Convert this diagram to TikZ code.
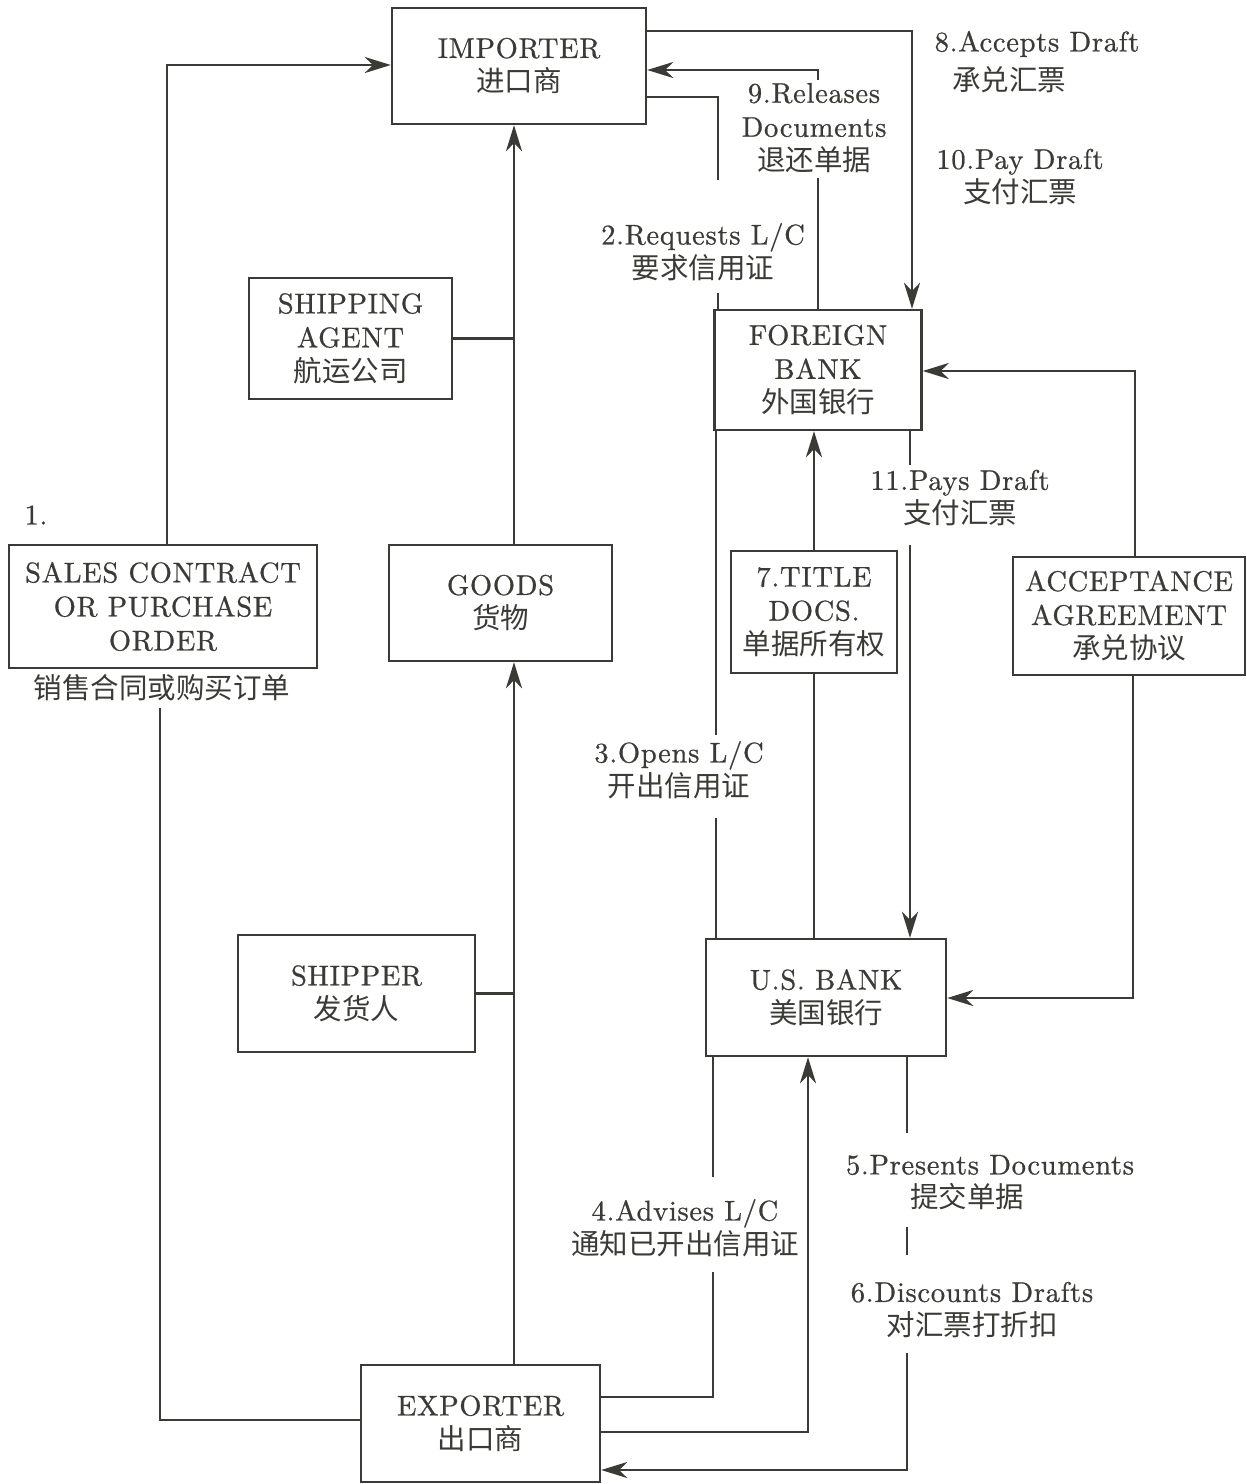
\documentclass[tikz,border=0pt]{standalone}
\usepackage{fontspec}
\setmainfont{lmroman10-regular.otf}[FakeBold=0.7,LetterSpace=2.5]
\newfontfamily\cjk{Noto Sans CJK SC}
\usetikzlibrary{arrows.meta}
\definecolor{ink}{RGB}{58,58,54}
\newcommand{\zh}[1]{{\cjk #1}}
\begin{document}
\begin{tikzpicture}[x=1pt,y=-1pt,
  font=\fontsize{28.5}{34}\selectfont,
  box/.style={draw=ink, line width=2.4pt, inner sep=0pt, align=center, text=ink},
  lab/.style={text=ink, align=center, inner sep=0pt},
  conn/.style={draw=ink, line width=2.4pt},
  arr/.style={conn, -{Stealth[length=26pt,width=16pt,inset=8pt]}}]
\fill[white] (0,0) rectangle (1247,1484);
\useasboundingbox (0,0) rectangle (1247,1484);

% boxes
\node[box, minimum width=254pt, minimum height=116pt] (imp) at (519,66) {IMPORTER\\\zh{进口商}};
\node[box, minimum width=207pt, minimum height=120pt] (fb) at (818,370) {FOREIGN\\BANK\\\zh{外国银行}};
\node[box, minimum width=203pt, minimum height=121pt] (sa) at (350.5,338.5) {SHIPPING\\AGENT\\\zh{航运公司}};
\node[box, minimum width=308pt, minimum height=123pt] (sc) at (163,606.5) {SALES CONTRACT\\OR PURCHASE\\ORDER};
\node[box, minimum width=223pt, minimum height=116pt] (goods) at (500.5,603) {GOODS\\\zh{货物}};
\node[box, minimum width=166pt, minimum height=122pt] (td) at (814,612) {7.TITLE\\DOCS.\\\zh{单据所有权}};
\node[box, minimum width=232pt, minimum height=118pt] (acc) at (1129,616) {ACCEPTANCE\\AGREEMENT\\\zh{承兑协议}};
\node[box, minimum width=237pt, minimum height=117pt] (shipper) at (356.5,993.5) {SHIPPER\\\zh{发货人}};
\node[box, minimum width=240pt, minimum height=117pt] (usb) at (826,997.5) {U.S. BANK\\\zh{美国银行}};
\node[box, minimum width=239pt, minimum height=117pt] (exp) at (480.5,1423.5) {EXPORTER\\\zh{出口商}};

% labels
\node[lab] (l1) at (36,515) {1.};
\node[lab] (sczh) at (162,688) {\zh{销售合同或购买订单}};
\node[lab] (l8a) at (1037,44) {8.Accepts Draft};
\node[lab] (l8b) at (1009,80) {\zh{承兑汇票}};
\node[lab] (l9) at (814,128) {9.Releases\\Documents\\\zh{退还单据}};
\node[lab] (l10) at (1020,177) {10.Pay Draft\\\zh{支付汇票}};
\node[lab] (l2) at (703,252) {2.Requests L/C\\\zh{要求信用证}};
\node[lab] (l11) at (960,498) {11.Pays Draft\\\zh{支付汇票}};
\node[lab] (l3) at (679,770) {3.Opens L/C\\\zh{开出信用证}};
\node[lab] (l4) at (685,1228) {4.Advises L/C\\\zh{通知已开出信用证}};
\node[lab] (l5a) at (990,1165) {5.Presents Documents};
\node[lab] (l5b) at (967,1197) {\zh{提交单据}};
\node[lab] (l6) at (972,1310) {6.Discounts Drafts\\\zh{对汇票打折扣}};

% coordinates
\coordinate (spine) at (514,0);
\coordinate (k1) at (167,65);
\coordinate (k2) at (160,1420);
\coordinate (k2top) at (160,708);
\coordinate (k8) at (912,31);
\coordinate (k9) at (818,70);
\coordinate (k9a) at (818,80);
\coordinate (k9b) at (818,178);
\coordinate (k2r) at (718,97);
\coordinate (k2ra) at (718,180);
\coordinate (k2rb) at (718,293);
\coordinate (k3a) at (716,735);
\coordinate (k3b) at (716,818);
\coordinate (k11a) at (910,465);
\coordinate (k11b) at (910,545);
\coordinate (k14) at (1135,371);
\coordinate (k15) at (1133,998);
\coordinate (k4a) at (713,1177);
\coordinate (k4b) at (713,1272);
\coordinate (k4c) at (713,1397);
\coordinate (k17) at (808,1432);
\coordinate (k5a) at (907,1133);
\coordinate (k5b) at (907,1227);
\coordinate (k5c) at (907,1255);
\coordinate (k5d) at (907,1353);
\coordinate (k5e) at (907,1470);

% connectors
\draw[arr] (sc.north -| k1) -- (k1) -- (imp.west |- k1);
\draw[conn] (exp.west |- k2) -- (k2) -- (k2top);
\draw[arr] (exp.north -| spine) -- (goods.south -| spine);
\draw[arr] (goods.north -| spine) -- (imp.south -| spine);
\draw[conn] (sa.east) -- (sa.east -| spine);
\draw[conn] (shipper.east) -- (shipper.east -| spine);
\draw[arr] (imp.east |- k8) -- (k8) -- (fb.north -| k8);
\draw[conn] (fb.north -| k9) -- (k9b);
\draw[arr] (k9a) -- (k9) -- (imp.east |- k9);
\draw[conn] (imp.east |- k2r) -- (k2r) -- (k2ra);
\draw[conn] (k2rb) -- (fb.north -| k2rb);
\draw[conn] (fb.south -| k3a) -- (k3a);
\draw[conn] (k3b) -- (usb.north -| k3b);
\draw[arr] (td.north) -- (fb.south -| td.north);
\draw[conn] (td.south) -- (usb.north -| td.south);
\draw[conn] (fb.south -| k11a) -- (k11a);
\draw[arr] (k11b) -- (usb.north -| k11b);
\draw[arr] (acc.north -| k14) -- (k14) -- (fb.east |- k14);
\draw[arr] (acc.south -| k15) -- (k15) -- (usb.east |- k15);
\draw[conn] (usb.south -| k4a) -- (k4a);
\draw[conn] (k4b) -- (k4c) -- (exp.east |- k4c);
\draw[arr] (exp.east |- k17) -- (k17) -- (usb.south -| k17);
\draw[conn] (usb.south -| k5a) -- (k5a);
\draw[conn] (k5b) -- (k5c);
\draw[arr] (k5d) -- (k5e) -- (exp.east |- k5e);
\end{tikzpicture}
\end{document}
